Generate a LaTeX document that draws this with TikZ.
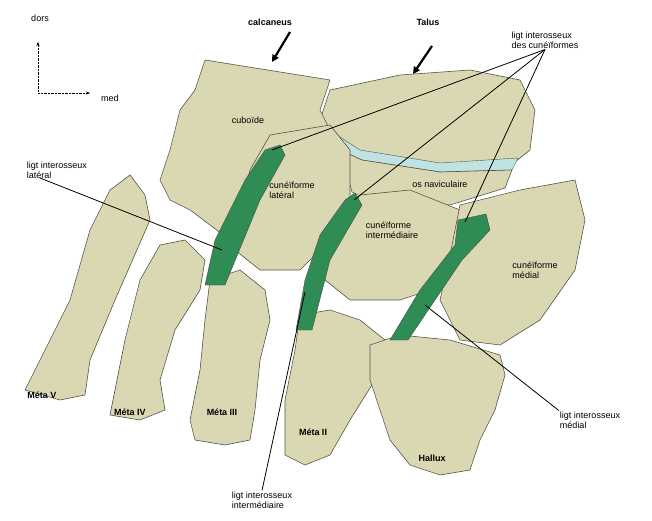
\documentclass[tikz,border=0pt]{standalone}
\usepackage{fontspec}
\setmainfont{Liberation Sans}
\usetikzlibrary{arrows.meta}
\definecolor{bone}{HTML}{DAD8B2}
\definecolor{boneline}{HTML}{555548}
\definecolor{ligt}{HTML}{2F8C55}
\definecolor{cartil}{HTML}{BFE2E2}
\tikzset{
  os/.style={fill=bone, draw=boneline, line width=0.6pt, line join=round},
  lig/.style={fill=ligt, draw=black!70, line width=0.4pt},
  lbl/.style={font=\fontsize{9}{10}\selectfont, align=left, inner sep=1pt},
  bold/.style={font=\fontsize{9}{10}\selectfont\bfseries, inner sep=1pt},
  pointer/.style={draw=black, line width=0.8pt}
}
\begin{document}
\begin{tikzpicture}[x=1pt, y=-1pt]
    \useasboundingbox (0,0) rectangle (652,521);

    % bones of the tarsus
    \draw[os] (330,90) -- (400,75) -- (470,70) -- (520,80) -- (535,110) -- (530,150) -- (515,162) -- (440,165) -- (360,152) -- (330,135) -- (320,120) -- cycle;
    \draw[fill=cartil, draw=boneline] (326,128) -- (360,150) -- (440,163) -- (518,158) -- (512,170) -- (440,172) -- (362,160) -- (340,150) -- cycle;
    \draw[os] (340,150) -- (362,160) -- (440,172) -- (512,170) -- (505,188) -- (450,205) -- (380,206) -- (352,192) -- cycle;
    \draw[os] (205,60) -- (330,80) -- (320,110) -- (330,130) -- (310,170) -- (290,200) -- (260,230) -- (230,240) -- (190,210) -- (170,200) -- (160,180) -- (170,150) -- (180,110) -- (195,90) -- cycle;
    \draw[os] (270,135) -- (330,125) -- (350,150) -- (350,200) -- (330,240) -- (300,270) -- (260,270) -- (235,250) -- (240,210) -- (250,170) -- cycle;
    \draw[os] (360,195) -- (410,190) -- (460,210) -- (455,250) -- (430,290) -- (400,300) -- (350,300) -- (325,280) -- (330,240) -- cycle;
    \draw[os] (460,205) -- (520,190) -- (575,180) -- (585,220) -- (575,270) -- (540,320) -- (500,345) -- (460,340) -- (440,300) -- (450,255) -- cycle;

    % metatarsals
    \draw[os] (130,175) -- (145,195) -- (150,220) -- (115,300) -- (90,360) -- (85,395) -- (60,400) -- (25,390) -- (40,360) -- (70,300) -- (90,230) -- (110,190) -- cycle;
    \draw[os] (160,245) -- (185,240) -- (205,260) -- (200,290) -- (175,330) -- (160,380) -- (165,410) -- (140,420) -- (110,415) -- (115,390) -- (125,340) -- (140,280) -- cycle;
    \draw[os] (210,280) -- (240,270) -- (265,290) -- (270,320) -- (260,360) -- (255,410) -- (250,440) -- (225,445) -- (195,440) -- (190,420) -- (200,370) -- (205,320) -- cycle;
    \draw[os] (300,315) -- (330,310) -- (360,320) -- (385,340) -- (375,380) -- (350,420) -- (330,455) -- (305,465) -- (285,455) -- (285,400) -- (295,350) -- cycle;
    \draw[os] (370,345) -- (400,335) -- (450,340) -- (500,355) -- (505,375) -- (495,410) -- (480,440) -- (470,470) -- (440,475) -- (410,465) -- (390,440) -- (380,410) -- (370,380) -- cycle;

    % ligaments
    \draw[lig] (265,150) -- (280,145) -- (285,155) -- (260,200) -- (225,285) -- (205,285) -- (215,240) -- (245,180) -- cycle;
    \draw[lig] (345,200) -- (355,193) -- (362,205) -- (330,260) -- (312,330) -- (296,330) -- (305,280) -- (320,235) -- cycle;
    \draw[lig] (458,220) -- (486,214) -- (490,230) -- (462,260) -- (408,340) -- (390,340) -- (420,290) -- (455,245) -- cycle;

    % orientation
    \node[lbl] (dors) at (40,18) {dors};
    \node[lbl, anchor=west] (med) at (100,98) {med};
    \coordinate (o) at (38,93);
    \draw[densely dotted, -{Stealth[length=4pt]}] (o) -- (38,42);
    \draw[densely dotted, -{Stealth[length=4pt]}] (o) -- (90,93);

    % top labels
    \node[bold] (calc) at (270,22) {calcaneus};
    \node[bold] (talus) at (428,22) {Talus};
    \draw[line width=2.2pt, -{Triangle[length=7pt,width=7pt]}] (290,32) -- (272,62);
    \draw[line width=2.2pt, -{Triangle[length=7pt,width=7pt]}] (432,46) -- (413,74);

    % bone names
    \node[lbl] (cub) at (248,120) {cuboïde};
    \node[lbl] (cunlat) at (292,190) {cunéïforme\\latéral};
    \node[lbl] (nav) at (440,184) {os naviculaire};
    \node[lbl] (cunint) at (392,230) {cunéïforme\\intermédiaire};
    \node[lbl] (cunmed) at (535,270) {cunéïforme\\médial};
    \node[bold] (m5) at (42,395) {Méta V};
    \node[bold] (m4) at (130,412) {Méta IV};
    \node[bold] (m3) at (222,412) {Méta III};
    \node[bold] (m2) at (313,432) {Méta II};
    \node[bold] (hal) at (432,458) {Hallux};

    % ligament labels
    \node[lbl] (lcun) at (545,40) {ligt interosseux\\des cunéïformes};
    \node[lbl] (llat) at (57,170) {ligt interosseux\\latéral};
    \node[lbl] (lint) at (262,500) {ligt interosseux\\intermédiaire};
    \node[lbl] (lmed) at (590,420) {ligt interosseux\\médial};
    \coordinate (c1) at (272,150);
    \coordinate (c2) at (354,200);
    \coordinate (c3) at (465,222);
    \coordinate (c4) at (222,250);
    \coordinate (c5) at (305,292);
    \coordinate (c6) at (425,305);
    \draw[pointer] (lcun.south) -- (c1);
    \draw[pointer] (lcun.south) -- (c2);
    \draw[pointer] (lcun.south) -- (c3);
    \draw[pointer] (40,178) -- (c4);
    \draw[pointer] (lint.north) -- (c5);
    \draw[pointer] (lmed.north west) -- (c6);
\end{tikzpicture}
\end{document}
